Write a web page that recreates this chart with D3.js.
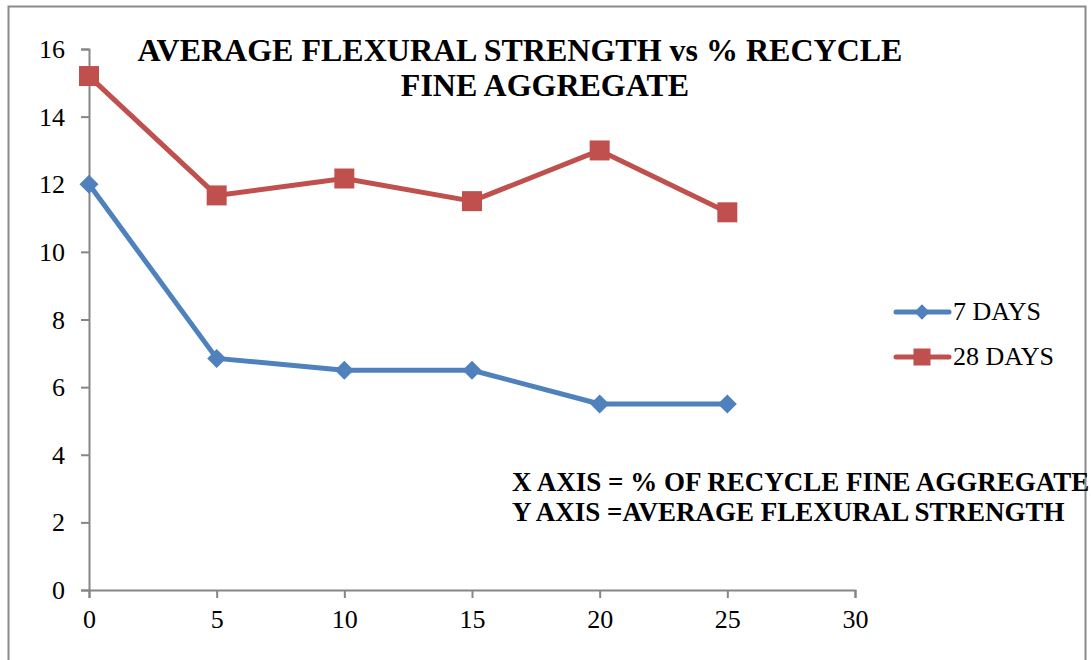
<!DOCTYPE html>
<html>
<head>
<meta charset="utf-8">
<script src="https://cdn.jsdelivr.net/npm/d3@7"></script>
<style>
  html, body { margin: 0; padding: 0; background: #fff; }
  svg { display: block; }
</style>
</head>
<body>
<svg id="chart" width="1091" height="660"></svg>
<script>
// Percentage of recycled fine aggregate
const replacement = [0, 5, 10, 15, 20, 25];
// Average flexural strength
const days7 = [12.0, 6.85, 6.5, 6.5, 5.5, 5.5];
const days28 = [15.2, 11.67, 12.17, 11.5, 13.0, 11.17];
const xTicks = [0, 5, 10, 15, 20, 25, 30];
const yTicks = [0, 2, 4, 6, 8, 10, 12, 14, 16];
const seriesNames = ["7 DAYS", "28 DAYS"];

const svg = d3.select("#chart");
const serif = "'Liberation Serif', 'Times New Roman', serif";
const axisColor = "#868686";
const blue = "#4F81BD", red = "#C0504D";

// outer frame
svg.append("path")
  .attr("d", "M8.5,660 L8.5,6.5 L1085.5,6.5 L1085.5,660")
  .attr("fill", "none").attr("stroke", "#8a8a8a").attr("stroke-width", 2);

const x = d3.scaleLinear().domain([0, 30]).range([89, 855]);
const y = d3.scaleLinear().domain([0, 16]).range([590, 49]);

// y axis
const yAxis = svg.append("g").attr("transform", "translate(89,0)")
  .call(d3.axisLeft(y).tickValues(yTicks).tickSize(8).tickPadding(16).tickFormat(d3.format("d")));
// x axis
const xAxis = svg.append("g").attr("transform", "translate(0,590)")
  .call(d3.axisBottom(x).tickValues(xTicks).tickSize(8).tickPadding(12).tickFormat(d3.format("d")));
[xAxis, yAxis].forEach(g => {
  g.select(".domain").attr("stroke", axisColor).attr("stroke-width", 2);
  g.selectAll(".tick line").attr("stroke", axisColor).attr("stroke-width", 2);
  g.selectAll(".tick text").attr("fill", "#000")
    .style("font-family", serif).style("font-size", "26px");
});
yAxis.selectAll(".tick text").attr("dy", "0.33em");
xAxis.selectAll(".tick text").attr("dy", "0.71em");

const line = d3.line().x((d, i) => x(replacement[i])).y(d => y(d));

function drawSeries(vals, color, shape, size) {
  svg.append("path").datum(vals).attr("d", line)
    .attr("fill", "none").attr("stroke", color).attr("stroke-width", 5)
    .attr("stroke-linejoin", "round");
  svg.append("g").selectAll("path").data(vals).join("path")
    .attr("d", d3.symbol().type(shape).size(size))
    .attr("transform", (d, i) => `translate(${x(replacement[i])},${y(d)})`)
    .attr("fill", color);
}
drawSeries(days7, blue, d3.symbolDiamond2, 230);
drawSeries(days28, red, d3.symbolSquare, 400);

// title
const title = svg.append("g").style("font-family", serif).style("font-weight", "bold")
  .style("font-size", "32px").attr("fill", "#000");
title.append("text").attr("x", 520).attr("y", 61).attr("text-anchor", "middle")
  .text("AVERAGE FLEXURAL STRENGTH vs % RECYCLE");
title.append("text").attr("x", 545).attr("y", 96).attr("text-anchor", "middle")
  .text("FINE AGGREGATE");

// legend
const legend = svg.append("g");
const legendColors = [blue, red];
const legendShapes = [d3.symbolDiamond2, d3.symbolSquare];
const legendSizes = [150, 290];
seriesNames.forEach((name, i) => {
  const ly = 312 + i * 45;
  legend.append("line").attr("x1", 896).attr("x2", 949).attr("y1", ly).attr("y2", ly)
    .attr("stroke", legendColors[i]).attr("stroke-width", 5).attr("stroke-linecap", "round");
  legend.append("path")
    .attr("d", d3.symbol().type(legendShapes[i]).size(legendSizes[i]))
    .attr("transform", `translate(922,${ly})`).attr("fill", legendColors[i]);
  legend.append("text").attr("x", 953).attr("y", ly + 8)
    .style("font-family", serif).style("font-size", "26px").attr("fill", "#000").text(name);
});

// axis descriptions
const notes = svg.append("g").style("font-family", serif).style("font-weight", "bold")
  .style("font-size", "27px").attr("fill", "#000");
notes.append("text").attr("x", 512).attr("y", 491).text("X AXIS = % OF RECYCLE FINE AGGREGATE");
notes.append("text").attr("x", 512).attr("y", 521).text("Y AXIS =AVERAGE FLEXURAL STRENGTH");
</script>
</body>
</html>
